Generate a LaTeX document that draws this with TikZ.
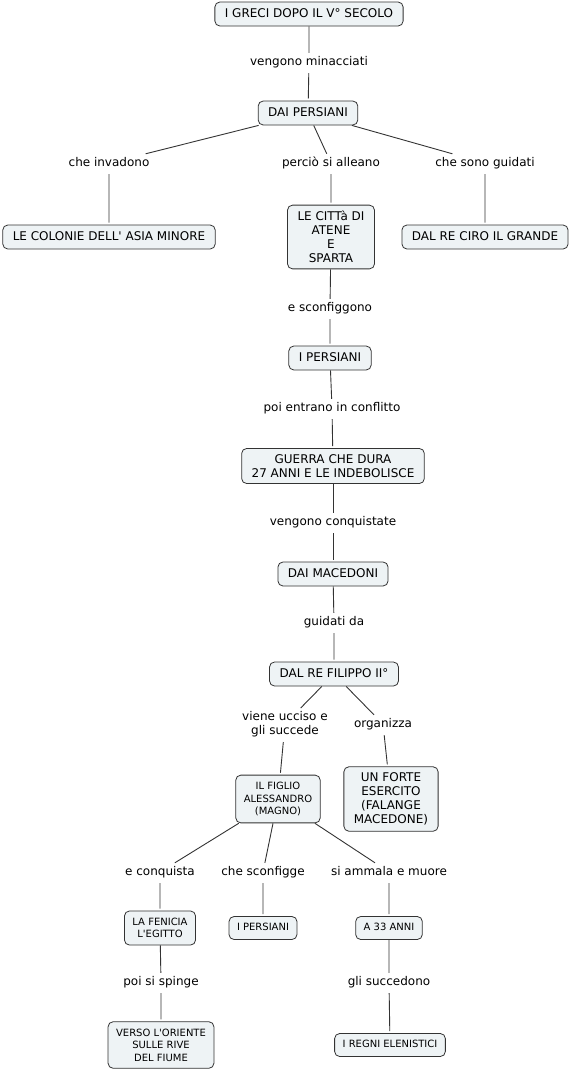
\documentclass[tikz,border=0pt]{standalone}
\usepackage{fontspec}
\setmainfont{DejaVu Sans}[Ligatures=TeXOff]
\usetikzlibrary{positioning}
\definecolor{cfill}{HTML}{EEF3F5}
\definecolor{cline}{HTML}{333333}

\begin{document}
\begin{tikzpicture}[
  x=1pt, y=-1pt,
  font=\fontsize{12}{14}\selectfont,
  conbox/.style={draw=cline, fill=cfill, rounded corners=5pt, align=center, inner xsep=10pt, inner ysep=6pt, line width=0.8pt},
  smallbox/.style={conbox, font=\fontsize{10}{12.5}\selectfont, inner xsep=8pt, inner ysep=7pt},
  oneline/.style={text height=9pt, text depth=3pt},
  onesmall/.style={text height=7.5pt, text depth=2.5pt, inner ysep=6.5pt},
  lbl/.style={align=center, inner xsep=3pt, inner ysep=3pt},
  conn/.style={draw=cline, line width=0.9pt, shorten <=2pt, shorten >=2pt}
]
\useasboundingbox (0,0) rectangle (570,1072);
% concetti
\node[conbox, oneline] (greci) at (309,14) {I GRECI DOPO IL V° SECOLO};
\node[conbox, oneline] (dpers) at (308,113) {DAI PERSIANI};
\node[conbox, oneline] (colonie) at (109,237) {LE COLONIE DELL' ASIA MINORE};
\node[conbox] (atene) at (331,237) {LE CITTà DI\\ATENE\\E\\SPARTA};
\node[conbox, oneline] (ciro) at (485,237) {DAL RE CIRO IL GRANDE};
\node[conbox, oneline] (ipers) at (330,358) {I PERSIANI};
\node[conbox] (guerra) at (333,466) {GUERRA CHE DURA\\27 ANNI E LE INDEBOLISCE};
\node[conbox, oneline] (maced) at (333,574) {DAI MACEDONI};
\node[conbox, oneline] (filippo) at (334,674) {DAL RE FILIPPO II°};
\node[smallbox] (figlio) at (278,799) {IL FIGLIO\\ALESSANDRO\\(MAGNO)};
\node[conbox] (esercito) at (391,799) {UN FORTE\\ESERCITO\\(FALANGE\\MACEDONE)};
\node[smallbox] (fenicia) at (160,928) {LA FENICIA\\L'EGITTO};
\node[smallbox, onesmall] (ipers2) at (263,928) {I PERSIANI};
\node[smallbox, onesmall] (anni) at (389,928) {A 33 ANNI};
\node[smallbox] (oriente) at (161,1045) {VERSO L'ORIENTE\\SULLE RIVE\\DEL FIUME};
\node[smallbox, onesmall] (regni) at (390,1045) {I REGNI ELENISTICI};
% frasi di legame
\node[lbl, oneline] (lminacc) at (309,62) {vengono minacciati};
\node[lbl, oneline] (linvad) at (109,163) {che invadono};
\node[lbl, oneline] (lalleano) at (331,163) {perciò si alleano};
\node[lbl, oneline] (lguidati) at (485,163) {che sono guidati};
\node[lbl, oneline] (lsconf) at (330,308) {e sconfiggono};
\node[lbl, oneline] (lconfl) at (332,408) {poi entrano in conflitto};
\node[lbl, oneline] (lconq) at (333,522) {vengono conquistate};
\node[lbl, oneline] (lguid) at (334,622) {guidati da};
\node[lbl] (lucciso) at (285,724) {viene ucciso e\\gli succede};
\node[lbl, oneline] (lorgan) at (383,724) {organizza};
\node[lbl, oneline] (leconq) at (160,872) {e conquista};
\node[lbl, oneline] (lsconfigge) at (263,872) {che sconfigge};
\node[lbl, oneline] (lammala) at (389,872) {si ammala e muore};
\node[lbl, oneline] (lspinge) at (161,982) {poi si spinge};
\node[lbl, oneline] (lsucc) at (389,982) {gli succedono};
% collegamenti
\draw[conn] (greci) -- (lminacc) -- (dpers);
\draw[conn] (dpers) -- (linvad) -- (colonie);
\draw[conn] (dpers) -- (lalleano) -- (atene);
\draw[conn] (dpers) -- (lguidati) -- (ciro);
\draw[conn] (atene) -- (lsconf) -- (ipers);
\draw[conn] (ipers) -- (lconfl) -- (guerra);
\draw[conn] (guerra) -- (lconq) -- (maced);
\draw[conn] (maced) -- (lguid) -- (filippo);
\draw[conn] (filippo) -- (lucciso) -- (figlio);
\draw[conn] (filippo) -- (lorgan) -- (esercito);
\draw[conn] (figlio) -- (leconq) -- (fenicia);
\draw[conn] (figlio) -- (lsconfigge) -- (ipers2);
\draw[conn] (figlio) -- (lammala) -- (anni);
\draw[conn] (fenicia) -- (lspinge) -- (oriente);
\draw[conn] (anni) -- (lsucc) -- (regni);
\end{tikzpicture}
\end{document}
